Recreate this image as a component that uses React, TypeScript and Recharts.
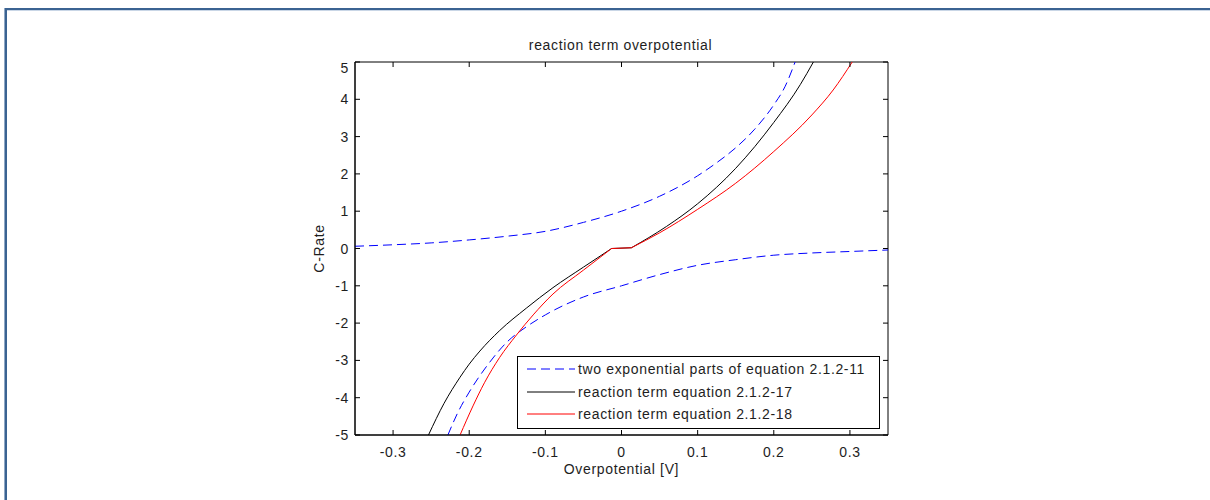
import React from 'react';
import { LineChart, Line, XAxis, YAxis, ReferenceArea, Legend } from 'recharts';

// ---------- data ----------
const blueUpperX = [-0.35, -0.3, -0.25, -0.2, -0.15, -0.1, -0.05, 0, 0.05, 0.1, 0.125, 0.15, 0.175, 0.2, 0.215, 0.228];
const blueUpperY = [0.06, 0.1, 0.15, 0.23, 0.33, 0.46, 0.7, 1.0, 1.4, 1.95, 2.3, 2.7, 3.2, 3.85, 4.35, 5.0];

const blueLowerX = [-0.228, -0.215, -0.2, -0.175, -0.15, -0.125, -0.1, -0.05, 0, 0.05, 0.1, 0.15, 0.2, 0.25, 0.3, 0.35];
const blueLowerY = [-5.0, -4.4, -3.85, -3.1, -2.5, -2.1, -1.78, -1.3, -1.0, -0.7, -0.45, -0.3, -0.18, -0.12, -0.08, -0.04];

// black curve: negative branch, flat piece around 0, positive branch
const blackLeftX = [-0.2535, -0.233, -0.212, -0.2, -0.186, -0.16, -0.125, -0.09, -0.05, -0.013];
const blackLeftY = [-5.0, -4.15, -3.45, -3.1, -2.75, -2.2, -1.6, -1.05, -0.5, 0.0];
const blackMidX = [-0.013, 0.013];
const blackMidY = [0.0, 0.02];
const blackRightX = [0.013, 0.059, 0.1, 0.15, 0.2, 0.235, 0.252];
const blackRightY = [0.02, 0.59, 1.2, 2.15, 3.38, 4.4, 5.0];

// red curve
const redLeftX = [-0.212, -0.195, -0.18, -0.16, -0.138, -0.116, -0.09, -0.05, -0.013];
const redLeftY = [-5.0, -4.22, -3.6, -2.92, -2.32, -1.78, -1.22, -0.58, 0.0];
const redMidX = [-0.013, 0.013];
const redMidY = [0.0, 0.02];
const redRightX = [0.013, 0.05, 0.1, 0.15, 0.2, 0.25, 0.278, 0.303];
const redRightY = [0.02, 0.42, 1.05, 1.75, 2.6, 3.58, 4.25, 5.0];

const xTicks = [-0.3, -0.2, -0.1, 0, 0.1, 0.2, 0.3];
const yTicks = [-5, -4, -3, -2, -1, 0, 1, 2, 3, 4, 5];

const seriesNames = [
  'two exponential parts of equation 2.1.2-11',
  'reaction term equation 2.1.2-17',
  'reaction term equation 2.1.2-18',
];
const seriesColors = ['#0000ff', '#000000', '#ff0000'];
const seriesDash = ['9 5', undefined, undefined];

const titleText = 'reaction term overpotential';
const xLabelText = 'Overpotential [V]';
const yLabelText = 'C-Rate';

const toPoints = (xs: number[], ys: number[]) => xs.map((x, i) => ({ x, y: ys[i] }));

// ---------- layout / style ----------
const PLOT = { left: 355, top: 62, right: 888, bottom: 435 };
const FONT = "'Liberation Sans', Arial, Helvetica, sans-serif";
const TEXT_COLOR = '#1e1e1e';
const FONT_SIZE = 14;
const LETTER_SP = 0.65;
const TICK_LEN = 5;

function XTick(props: any) {
  const { x, y, payload } = props;
  return (
    <g>
      <line x1={x} x2={x} y1={PLOT.bottom} y2={PLOT.bottom - TICK_LEN} stroke="#000" />
      <line x1={x} x2={x} y1={PLOT.top} y2={PLOT.top + TICK_LEN} stroke="#000" />
      <text x={x} y={y + 21.5} textAnchor="middle" fontSize={FONT_SIZE} fontFamily={FONT} fill={TEXT_COLOR} letterSpacing={LETTER_SP}>
        {String(payload.value)}
      </text>
    </g>
  );
}

function YTick(props: any) {
  const { x, y, payload } = props;
  const shift = payload.value === 5 ? 6 : 0;
  return (
    <g>
      <line x1={PLOT.left} x2={PLOT.left + TICK_LEN} y1={y} y2={y} stroke="#000" />
      <line x1={PLOT.right} x2={PLOT.right - TICK_LEN} y1={y} y2={y} stroke="#000" />
      <text x={x - 6} y={y + 5 + shift} textAnchor="end" fontSize={FONT_SIZE} fontFamily={FONT} fill={TEXT_COLOR} letterSpacing={LETTER_SP}>
        {String(payload.value)}
      </text>
    </g>
  );
}

function LegendBox() {
  const rowY = [13, 36, 58];
  return (
    <svg width={363} height={73} style={{ display: 'block', overflow: 'visible' }}>
      <rect x={0.5} y={0.5} width={362} height={72} fill="#fff" stroke="#000" />
      {seriesNames.map((name, i) => (
        <g key={i}>
          <line x1={10} x2={58} y1={rowY[i]} y2={rowY[i]} stroke={seriesColors[i]} strokeDasharray={seriesDash[i]} />
          <text x={61} y={rowY[i] + 5} fontSize={FONT_SIZE} fontFamily={FONT} fill={TEXT_COLOR} letterSpacing={LETTER_SP}>
            {name}
          </text>
        </g>
      ))}
    </svg>
  );
}

function seriesLine(key: string, xs: number[], ys: number[], colorIdx: number, curve: 'monotone' | 'linear', name: string, showInLegend: boolean) {
  return (
    <Line
      key={key}
      data={toPoints(xs, ys)}
      dataKey="y"
      name={name}
      legendType={showInLegend ? 'line' : 'none'}
      stroke={seriesColors[colorIdx]}
      strokeDasharray={seriesDash[colorIdx]}
      strokeWidth={1}
      dot={false}
      activeDot={false}
      type={curve}
      isAnimationActive={false}
    />
  );
}

export default function App() {
  return (
    <div style={{ position: 'fixed', left: 0, top: 0, width: 1210, height: 500, background: '#fff', overflow: 'hidden' }}>
      {/* window frame */}
      <svg width={1210} height={500} style={{ position: 'absolute', left: 0, top: 0 }}>
        <rect x={4} y={8} width={1206} height={2} fill="#3b6392" />
        <rect x={4} y={10} width={1206} height={1} fill="#c9d6e6" />
        <rect x={4} y={8} width={1} height={492} fill="#8fa7c4" />
        <rect x={5} y={8} width={2} height={492} fill="#3b6392" />
      </svg>
      <svg width={1210} height={60} style={{ position: 'absolute', left: 0, top: 0 }}>
        <text x={(PLOT.left + PLOT.right) / 2 - 1} y={50} textAnchor="middle" fontSize={FONT_SIZE} fontFamily={FONT} fill={TEXT_COLOR} letterSpacing={LETTER_SP}>
          {titleText}
        </text>
      </svg>
      <div style={{ position: 'absolute', left: 0, top: 0 }}>
        <LineChart
          width={1210}
          height={500}
          margin={{ top: PLOT.top, right: 1210 - PLOT.right, bottom: 500 - PLOT.bottom - 40, left: PLOT.left - 40 }}
        >
          <XAxis
            type="number"
            dataKey="x"
            domain={[-0.35, 0.35]}
            ticks={xTicks}
            allowDataOverflow
            height={40}
            tickSize={0}
            tickMargin={0}
            tickLine={false}
            axisLine={{ stroke: '#000' }}
            tick={<XTick />}
            interval={0}
            label={{
              value: xLabelText,
              position: 'insideBottom',
              offset: 1,
              style: { fontSize: FONT_SIZE, fontFamily: FONT, fill: TEXT_COLOR, letterSpacing: LETTER_SP },
            }}
          />
          <YAxis
            type="number"
            dataKey="y"
            domain={[-5, 5]}
            ticks={yTicks}
            allowDataOverflow
            width={40}
            tickSize={0}
            tickMargin={0}
            tickLine={false}
            axisLine={{ stroke: '#000' }}
            tick={<YTick />}
            interval={0}
            label={{
              value: yLabelText,
              angle: -90,
              position: 'insideLeft',
              offset: 4,
              style: { fontSize: FONT_SIZE, fontFamily: FONT, fill: TEXT_COLOR, textAnchor: 'middle', letterSpacing: LETTER_SP },
            }}
          />
          <ReferenceArea x1={-0.35} x2={0.35} y1={-5} y2={5} fill="none" fillOpacity={0} stroke="#000" strokeOpacity={1} />
          {seriesLine('bu', blueUpperX, blueUpperY, 0, 'monotone', seriesNames[0], true)}
          {seriesLine('bl', blueLowerX, blueLowerY, 0, 'monotone', 'blue-lower', false)}
          {seriesLine('kl', blackLeftX, blackLeftY, 1, 'monotone', seriesNames[1], true)}
          {seriesLine('km', blackMidX, blackMidY, 1, 'linear', 'black-mid', false)}
          {seriesLine('kr', blackRightX, blackRightY, 1, 'monotone', 'black-right', false)}
          {seriesLine('rl', redLeftX, redLeftY, 2, 'monotone', seriesNames[2], true)}
          {seriesLine('rm', redMidX, redMidY, 2, 'linear', 'red-mid', false)}
          {seriesLine('rr', redRightX, redRightY, 2, 'monotone', 'red-right', false)}
          <Legend
            layout="horizontal"
            verticalAlign="middle"
            align="center"
            content={<LegendBox />}
            wrapperStyle={{ left: 517, top: 356, width: 363, height: 73 }}
          />
        </LineChart>
      </div>
    </div>
  );
}
